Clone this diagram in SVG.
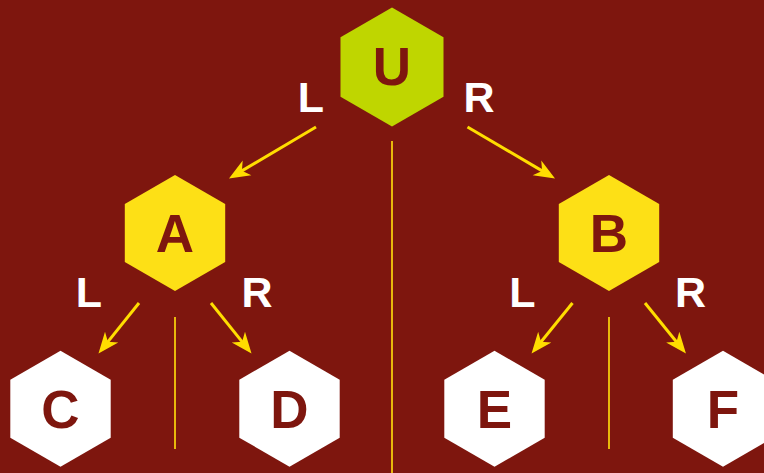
<svg xmlns="http://www.w3.org/2000/svg" width="764" height="473" viewBox="0 0 764 473">
  <style>
    .bg { fill: #7E160E; }
    .hex-root { fill: #BFD600; }
    .hex-mid { fill: #FDE016; }
    .hex-leaf { fill: #FFFFFF; }
    .node-text { font-family: "Liberation Sans", Arial, sans-serif; font-weight: bold; font-size: 53px; fill: #7E160E; text-anchor: middle; }
    .edge-label { font-family: "Liberation Sans", Arial, sans-serif; font-weight: bold; font-size: 43px; fill: #FFFFFF; text-anchor: middle; }
    .arrow { stroke: #FFDD00; stroke-width: 3; fill: none; marker-end: url(#head); }
    .divider { stroke: #E8B80C; stroke-width: 2; fill: none; }
  </style>
  <defs>
    <marker id="head" viewBox="-21 -10 22 20" refX="-12" refY="0" markerWidth="22" markerHeight="20" markerUnits="userSpaceOnUse" orient="auto">
      <path d="M0,0 L-21,-8.5 L-15,0 L-21,8.5 Z" fill="#FFDD00"/>
    </marker>
    <polygon id="hex" points="0,-58 50.2,-29 50.2,29 0,58 -50.2,29 -50.2,-29"/>
  </defs>
  <rect class="bg" x="0" y="0" width="764" height="473"/>

  <g id="connectors">
    <line class="divider" x1="392" y1="141" x2="392" y2="473"/>
    <line class="divider" x1="175" y1="317" x2="175" y2="449"/>
    <line class="divider" x1="609" y1="317" x2="609" y2="449"/>
    <line class="arrow" x1="316" y1="127" x2="239.3" y2="172.4"/>
    <line class="arrow" x1="467.5" y1="127" x2="544.7" y2="172.4"/>
    <line class="arrow" x1="139" y1="303" x2="106" y2="344.1"/>
    <line class="arrow" x1="211" y1="303" x2="244" y2="344.1"/>
    <line class="arrow" x1="572.5" y1="303" x2="539.1" y2="344.2"/>
    <line class="arrow" x1="645" y1="303" x2="678.4" y2="344.2"/>
    <text class="edge-label" x="311" y="112">L</text>
    <text class="edge-label" x="479" y="112">R</text>
    <text class="edge-label" x="89" y="307">L</text>
    <text class="edge-label" x="257" y="307">R</text>
    <text class="edge-label" x="522.5" y="307">L</text>
    <text class="edge-label" x="690.5" y="307">R</text>
  </g>

  <g id="node-U">
    <polygon class="hex-root" points="392,7.5 443.5,37.25 443.5,96.75 392,126.5 340.5,96.75 340.5,37.25"/>
    <text class="node-text" x="392" y="85">U</text>
  </g>
  <g id="node-A">
    <use href="#hex" class="hex-mid" transform="translate(175,233)"/>
    <text class="node-text" x="175" y="252">A</text>
  </g>
  <g id="node-B">
    <use href="#hex" class="hex-mid" transform="translate(609,233)"/>
    <text class="node-text" x="609" y="252">B</text>
  </g>
  <g id="node-C">
    <use href="#hex" class="hex-leaf" transform="translate(60.5,408.7)"/>
    <text class="node-text" x="60.5" y="428">C</text>
  </g>
  <g id="node-D">
    <use href="#hex" class="hex-leaf" transform="translate(289.5,408.7)"/>
    <text class="node-text" x="289.5" y="428">D</text>
  </g>
  <g id="node-E">
    <use href="#hex" class="hex-leaf" transform="translate(494.5,408.7)"/>
    <text class="node-text" x="494.5" y="428">E</text>
  </g>
  <g id="node-F">
    <use href="#hex" class="hex-leaf" transform="translate(723,408.7)"/>
    <text class="node-text" x="723" y="428">F</text>
  </g>
</svg>
